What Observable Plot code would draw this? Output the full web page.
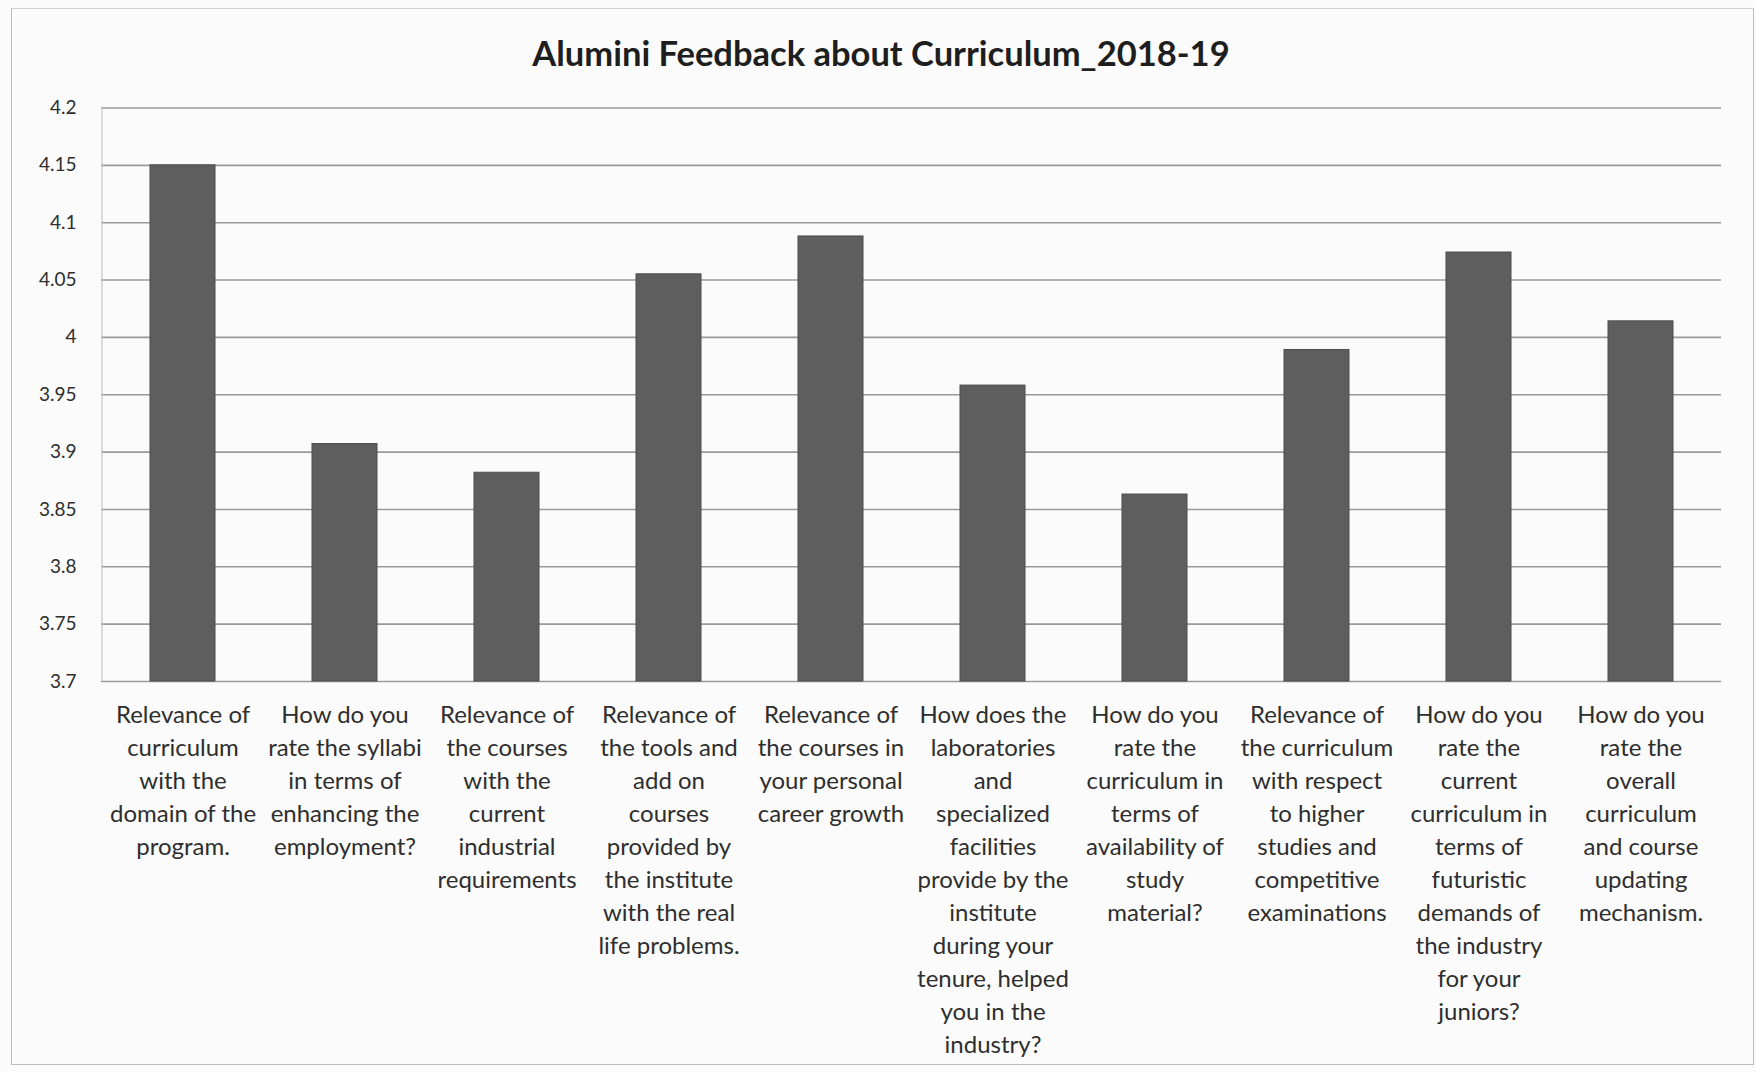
<!DOCTYPE html>
<html>
<head>
<meta charset="utf-8">
<script src="https://cdn.jsdelivr.net/npm/d3@7"></script>
<script src="https://cdn.jsdelivr.net/npm/@observablehq/plot@0.6"></script>
<style>
  html, body { margin: 0; padding: 0; background: #fbfbfb; }
  #wrap { position: relative; width: 1756px; height: 1072px; overflow: hidden; }
  #frame { position: absolute; left: 11px; top: 8px; width: 1743px; height: 1057px; border: 1.5px solid #bdbdbd; border-top-color: #d2d2d2; box-sizing: border-box; pointer-events: none; }
  #title { height: 90px; line-height: 106px; text-align: center; font-family: Lato, "Open Sans", sans-serif; font-weight: bold; font-size: 34.5px; color: #1e1e1e; padding-left: 6px; }
</style>
</head>
<body>
<div id="wrap">
  <div id="frame"></div>
  <div id="title">Alumini Feedback about Curriculum_2018-19</div>
  <div id="chart"></div>
</div>
<script>
const questions = [
  "Relevance of\ncurriculum\nwith the\ndomain of the\nprogram.",
  "How do you\nrate the syllabi\nin terms of\nenhancing the\nemployment?",
  "Relevance of\nthe courses\nwith the\ncurrent\nindustrial\nrequirements",
  "Relevance of\nthe tools and\nadd on\ncourses\nprovided by\nthe institute\nwith the real\nlife problems.",
  "Relevance of\nthe courses in\nyour personal\ncareer growth",
  "How does the\nlaboratories\nand\nspecialized\nfacilities\nprovide by the\ninstitute\nduring your\ntenure, helped\nyou in the\nindustry?",
  "How do you\nrate the\ncurriculum in\nterms of\navailability of\nstudy\nmaterial?",
  "Relevance of\nthe curriculum\nwith respect\nto higher\nstudies and\ncompetitive\nexaminations",
  "How do you\nrate the\ncurrent\ncurriculum in\nterms of\nfuturistic\ndemands of\nthe industry\nfor your\njuniors?",
  "How do you\nrate the\noverall\ncurriculum\nand course\nupdating\nmechanism."
];
const scores = [4.15, 3.907, 3.882, 4.055, 4.088, 3.958, 3.863, 3.989, 4.074, 4.014];
const yTicks = [3.7, 3.75, 3.8, 3.85, 3.9, 3.95, 4.0, 4.05, 4.1, 4.15, 4.2];
const yMin = 3.7, yMax = 4.2;

const data = questions.map((q, i) => ({q, v: scores[i]}));

const chart = Plot.plot({
  width: 1756,
  height: 982,
  marginTop: 17.5,
  marginBottom: 391,
  marginLeft: 101,
  marginRight: 35,
  style: {background: "transparent", fontFamily: "Lato, 'Open Sans', sans-serif", color: "#2e2e2e"},
  x: {domain: questions, paddingInner: 0.6, paddingOuter: 0.3, label: null},
  y: {domain: [yMin, yMax], label: null},
  marks: [
    Plot.ruleY(yTicks, {stroke: "#9a9a9a", strokeWidth: 1.6}),
    Plot.ruleX([questions[0]], {dx: -81, y1: yMin, y2: yMax, stroke: "#c4c4c4", strokeWidth: 1.2}),
    Plot.barY(data, {x: "q", y1: yMin, y2: "v", fill: "#5e5e5e", stroke: "#4c4c4c", strokeWidth: 1}),
    Plot.axisY({ticks: yTicks, tickSize: 0, tickPadding: 25, fontSize: 19, tickFormat: d => String(+d.toFixed(2)), label: null}),
    Plot.axisX({tickSize: 0, tickPadding: 18.5, fontSize: 24, lineHeight: 1.375, label: null})
  ]
});
document.getElementById("chart").appendChild(chart);
</script>
</body>
</html>
